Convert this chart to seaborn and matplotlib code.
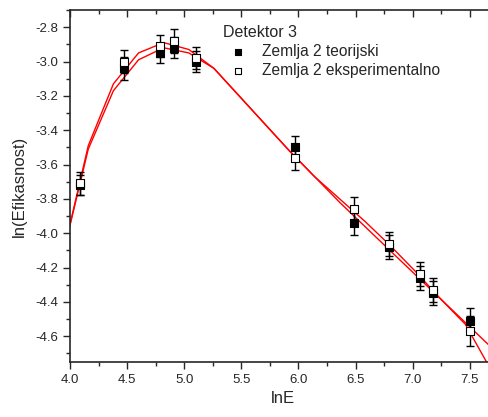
import numpy as np
import pandas as pd
import matplotlib
matplotlib.use("Agg")
import matplotlib.pyplot as plt
import seaborn as sns
from matplotlib.ticker import MultipleLocator

# --- measured points (Detektor 3) ---
lnE = [4.09, 4.47, 4.79, 4.91, 5.10, 5.97, 6.49, 6.79, 7.06, 7.18, 7.50]
teor = [-3.72, -3.04, -2.95, -2.92, -3.00, -3.50, -3.94, -4.08, -4.26, -4.35, -4.51]
eksp = [-3.71, -3.00, -2.91, -2.88, -2.98, -3.56, -3.86, -4.06, -4.24, -4.33, -4.57]
teor_err = [0.06, 0.065, 0.06, 0.06, 0.06, 0.065, 0.07, 0.07, 0.07, 0.07, 0.075]
eksp_err = [0.065, 0.065, 0.065, 0.07, 0.065, 0.07, 0.07, 0.07, 0.07, 0.07, 0.085]

# --- fitted curves (red) ---
fit_x = [3.94, 4.16, 4.38, 4.60, 4.82, 5.04, 5.26, 5.48, 5.70, 5.92,
         6.14, 6.36, 6.58, 6.80, 7.02, 7.24, 7.46, 7.68]
fit_teor = [-4.12, -3.51, -3.17, -2.99, -2.92, -2.95, -3.04, -3.20, -3.36, -3.52,
            -3.67, -3.82, -3.96, -4.10, -4.24, -4.38, -4.52, -4.66]
fit_eksp = [-4.12, -3.49, -3.13, -2.95, -2.89, -2.93, -3.04, -3.20, -3.36, -3.52,
            -3.67, -3.80, -3.93, -4.07, -4.22, -4.38, -4.53, -4.79]

sns.set_style("ticks")
plt.rcParams['font.family'] = ['Liberation Sans', 'DejaVu Sans']

fig = plt.figure(figsize=(4.89, 4.17), dpi=100)
ax = fig.add_axes([70 / 489, 55 / 417, 425 / 489, 352 / 417])

fits = pd.DataFrame({'x': fit_x + fit_x,
                     'y': fit_teor + fit_eksp,
                     'curve': ['teor'] * len(fit_x) + ['eksp'] * len(fit_x)})
sns.lineplot(data=fits, x='x', y='y', units='curve', estimator=None,
             color='red', lw=1.0, sort=False, legend=False, ax=ax, zorder=2)

ax.errorbar(lnE, teor, yerr=teor_err, fmt='none', ecolor='black',
            elinewidth=1.0, capsize=3, capthick=1.0, zorder=3)
ax.errorbar(lnE, eksp, yerr=eksp_err, fmt='none', ecolor='black',
            elinewidth=1.0, capsize=3, capthick=1.0, zorder=3)
ax.scatter(lnE, teor, marker='s', s=34, c='black', edgecolors='black',
           linewidths=0.8, zorder=4, label='Zemlja 2 teorijski')
ax.scatter(lnE, eksp, marker='s', s=34, c='white', edgecolors='black',
           linewidths=0.8, zorder=5, label='Zemlja 2 eksperimentalno')

ax.set_xlim(4.0, 7.72)
ax.set_ylim(-4.75, -2.70)
ax.xaxis.set_major_locator(MultipleLocator(0.5))
ax.xaxis.set_minor_locator(MultipleLocator(0.25))
ax.yaxis.set_major_locator(MultipleLocator(0.2))
ax.yaxis.set_minor_locator(MultipleLocator(0.1))
ax.xaxis.set_major_formatter(matplotlib.ticker.FormatStrFormatter('%.1f'))
ax.yaxis.set_major_formatter(matplotlib.ticker.FormatStrFormatter('%.1f'))

ax.tick_params(which='major', direction='out', length=5, width=1,
               labelsize=9.5, top=True, right=False)
ax.tick_params(which='minor', direction='out', length=3, width=1,
               top=True, right=False)
# top ticks point into the plot
for t in ax.xaxis.get_ticklines(minor=False)[1::2] + ax.xaxis.get_ticklines(minor=True)[1::2]:
    t.set_marker(3)

for side in ['left', 'bottom', 'top']:
    ax.spines[side].set_linewidth(1.2)
ax.spines['right'].set_visible(False)

ax.set_xlabel('lnE', fontsize=12)
ax.set_ylabel('ln(Efikasnost)', fontsize=12, labelpad=6)

leg = ax.legend(title='Detektor 3', loc='upper left', bbox_to_anchor=(0.345, 0.975),
                frameon=False, fontsize=11.2, title_fontsize=11.5,
                handletextpad=0.5, borderaxespad=0, labelspacing=0.25,
                markerscale=0.85)
leg._legend_box.align = 'left'

fig.savefig('out.png', dpi=100)
